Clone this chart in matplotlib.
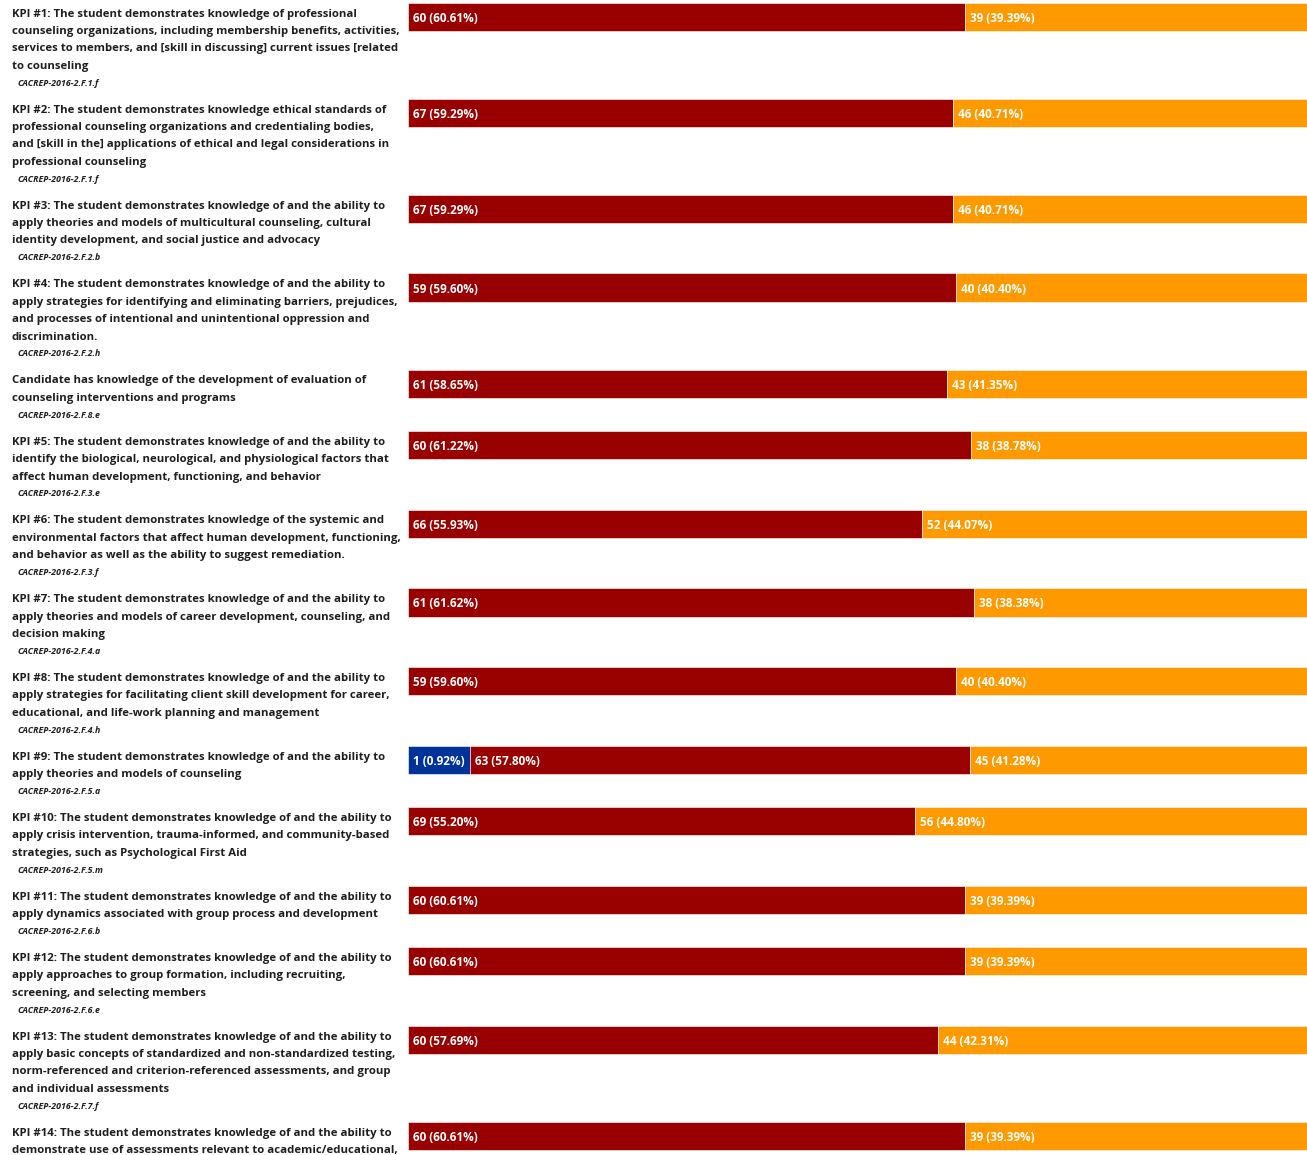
import matplotlib
matplotlib.use("Agg")
import matplotlib.pyplot as plt

# KPI labels, already wrapped the way the report wraps them
LABELS = [
    ["KPI #1: The student demonstrates knowledge of professional",
     "counseling organizations, including membership benefits, activities,",
     "services to members, and [skill in discussing] current issues [related",
     "to counseling"],
    ["KPI #2: The student demonstrates knowledge ethical standards of",
     "professional counseling organizations and credentialing bodies,",
     "and [skill in the] applications of ethical and legal considerations in",
     "professional counseling"],
    ["KPI #3: The student demonstrates knowledge of and the ability to",
     "apply theories and models of multicultural counseling, cultural",
     "identity development, and social justice and advocacy"],
    ["KPI #4: The student demonstrates knowledge of and the ability to",
     "apply strategies for identifying and eliminating barriers, prejudices,",
     "and processes of intentional and unintentional oppression and",
     "discrimination."],
    ["Candidate has knowledge of the development of evaluation of",
     "counseling interventions and programs"],
    ["KPI #5: The student demonstrates knowledge of and the ability to",
     "identify the biological, neurological, and physiological factors that",
     "affect human development, functioning, and behavior"],
    ["KPI #6: The student demonstrates knowledge of the systemic and",
     "environmental factors that affect human development, functioning,",
     "and behavior as well as the ability to suggest remediation."],
    ["KPI #7: The student demonstrates knowledge of and the ability to",
     "apply theories and models of career development, counseling, and",
     "decision making"],
    ["KPI #8: The student demonstrates knowledge of and the ability to",
     "apply strategies for facilitating client skill development for career,",
     "educational, and life-work planning and management"],
    ["KPI #9: The student demonstrates knowledge of and the ability to",
     "apply theories and models of counseling"],
    ["KPI #10: The student demonstrates knowledge of and the ability to",
     "apply crisis intervention, trauma-informed, and community-based",
     "strategies, such as Psychological First Aid"],
    ["KPI #11: The student demonstrates knowledge of and the ability to",
     "apply dynamics associated with group process and development"],
    ["KPI #12: The student demonstrates knowledge of and the ability to",
     "apply approaches to group formation, including recruiting,",
     "screening, and selecting members"],
    ["KPI #13: The student demonstrates knowledge of and the ability to",
     "apply basic concepts of standardized and non-standardized testing,",
     "norm-referenced and criterion-referenced assessments, and group",
     "and individual assessments"],
    ["KPI #14: The student demonstrates knowledge of and the ability to",
     "demonstrate use of assessments relevant to academic/educational,"],
]

CODES = [
    "CACREP-2016-2.F.1.f", "CACREP-2016-2.F.1.f", "CACREP-2016-2.F.2.b",
    "CACREP-2016-2.F.2.h", "CACREP-2016-2.F.8.e", "CACREP-2016-2.F.3.e",
    "CACREP-2016-2.F.3.f", "CACREP-2016-2.F.4.a", "CACREP-2016-2.F.4.h",
    "CACREP-2016-2.F.5.a", "CACREP-2016-2.F.5.m", "CACREP-2016-2.F.6.b",
    "CACREP-2016-2.F.6.e", "CACREP-2016-2.F.7.f", "",
]

# counts per rating level (left to right in each bar)
blue_counts = [0, 0, 0, 0, 0, 0, 0, 0, 0, 1, 0, 0, 0, 0, 0]
red_counts = [60, 67, 67, 59, 61, 60, 66, 61, 59, 63, 69, 60, 60, 60, 60]
orange_counts = [39, 46, 46, 40, 43, 38, 52, 38, 40, 45, 56, 39, 39, 44, 39]

SERIES = [blue_counts, red_counts, orange_counts]
COLORS = ["#003399", "#990000", "#ff9900"]

W, H = 1307, 1155
LEFT = 408
LINE_H = 17.4
BAR_H = 28.5
FULL_PX = 919      # the bars run a bit past the right edge of the page
MIN_PCT = 6.75     # a tiny segment still gets room for its label

fig = plt.figure(figsize=(W / 100, H / 100), dpi=100)
ax_lab = fig.add_axes([0, 0, LEFT / W, 1])
ax_lab.set_xlim(0, LEFT)
ax_lab.set_ylim(H, 0)
ax_lab.axis("off")
ax = fig.add_axes([LEFT / W, 0, 1 - LEFT / W, 1])
ax.set_xlim(0, 100 * (W - LEFT) / FULL_PX)
ax.set_ylim(H, 0)
ax.axis("off")

# row tops depend on how many lines the label has
tops = []
y = 2.5
for lines in LABELS:
    tops.append(y)
    y += 26.5 + LINE_H * len(lines)

for i, lines in enumerate(LABELS):
    top = tops[i]
    for k, line in enumerate(lines):
        ax_lab.text(12, top + 11.5 + LINE_H * k, line, fontsize=8.2,
                    family="Open Sans", weight="bold", color="#1e1e1e",
                    va="center", ha="left")
    if CODES[i]:
        ax_lab.text(17, top + 11 + LINE_H * len(lines), CODES[i],
                    fontsize=6.3, family="Open Sans", weight="bold",
                    style="italic", color="#1e1e1e", va="center", ha="left")

    counts = [s[i] for s in SERIES]
    total = sum(counts)
    pcts = [n / total * 100 for n in counts]
    # widths on screen: small nonzero segments are widened, the rest shrink
    small = [p for p in pcts if 0 < p < MIN_PCT]
    rest = sum(p for p in pcts if p >= MIN_PCT)
    scale = (100 - MIN_PCT * len(small)) / rest
    widths = [0 if p == 0 else (MIN_PCT if p < MIN_PCT else p * scale)
              for p in pcts]
    left = 0
    for n, p, w, color in zip(counts, pcts, widths, COLORS):
        if n == 0:
            continue
        ax.barh(top + BAR_H / 2, w, left=left, height=BAR_H, color=color,
                edgecolor="white", linewidth=0.4)
        ax.text(left + 0.55, top + BAR_H / 2 + 1.5, f"{n} ({p:.2f}%)",
                fontsize=8.5, family="Open Sans", weight="bold",
                color="white", va="center", ha="left")
        left += w

fig.savefig("out.png", dpi=100)
